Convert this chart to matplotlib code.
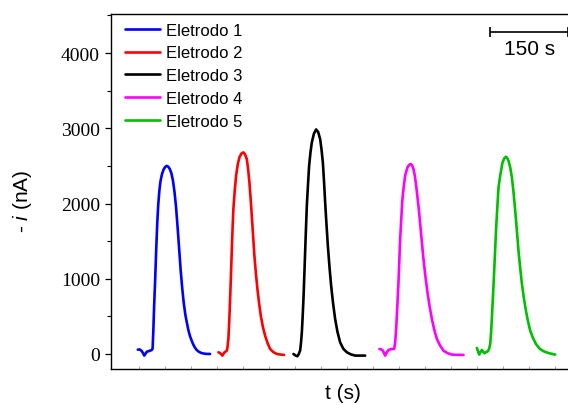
import matplotlib
matplotlib.use("Agg")
import matplotlib.pyplot as plt
from matplotlib.ticker import MultipleLocator

# time (s) and -i (nA), one pair of lists per electrode
t1 = [47.5, 51, 55, 58, 60, 62, 65, 68, 71, 74, 76, 77.5, 79, 81, 83, 85, 87, 89,
      91, 94, 97, 100, 103, 106, 109, 112, 115, 118, 121, 124, 127, 130, 133,
      136, 139, 142, 145, 148, 152, 156, 160, 165, 170, 176, 182, 186.5]
i1 = [57, 60, 40, 5, -22, 0, 31, 35, 44, 50, 70, 330, 650, 1000, 1400, 1750,
      2000, 2170, 2290, 2390, 2450, 2485, 2500, 2490, 2460, 2405, 2310, 2160,
      1960, 1690, 1400, 1110, 870, 670, 520, 410, 310, 235, 160, 100, 58, 28,
      12, 3, 0, 0]

t2 = [202.5, 206, 210.2, 214, 218.7, 220, 221.7, 223.3, 225, 226.7, 228.3,
      229.8, 231.3, 233.9, 236.5, 239.7, 242.9, 246.8, 250.6, 253.9, 257.1,
      259.6, 262.1, 264.4, 266.7, 269.2, 271.7, 274.6, 277.5, 280.8, 284, 288,
      292.3, 297, 301.9, 308, 314.8, 322, 328.8]
i2 = [22, 10, -22, 20, 44, 90, 200, 430, 730, 1060, 1395, 1680, 1927, 2170,
      2370, 2520, 2614, 2665, 2680, 2650, 2590, 2460, 2282, 2070, 1838, 1570,
      1306, 1070, 864, 670, 509, 360, 243, 145, 66, 25, 0, -8, -13]

t3 = [346.7, 350.5, 354.4, 357, 359.6, 361.3, 362.9, 364.5, 366, 367.6, 369.2,
      370.8, 372.5, 374.7, 376.9, 379.5, 382.1, 386.2, 390.4, 394.3, 398.1,
      400.7, 403.3, 405.5, 407.7, 410.3, 412.9, 416, 419.2, 423, 426.9, 431.5,
      436.5, 442.5, 449.4, 457, 465.4, 475, 484.6]
i3 = [0, -20, -31, 0, 44, 150, 288, 500, 730, 1030, 1351, 1660, 1971, 2250,
      2503, 2680, 2813, 2930, 2985, 2950, 2857, 2720, 2547, 2300, 2016, 1720,
      1440, 1160, 908, 670, 465, 290, 155, 70, 22, -5, -22, -22, -22]

t4 = [512.1, 515.4, 518.7, 521, 523.1, 526.2, 529.4, 535.9, 540.4, 542.3,
      544.2, 546.5, 548.7, 550.3, 551.9, 554.1, 556.3, 558.9, 561.5, 566,
      569.2, 572.5, 575, 577.5, 580.1, 582.7, 585.8, 589, 592.8, 596.7, 600.5,
      604.4, 608.6, 612.9, 617.7, 622.5, 628.8, 635.2, 643, 651.3, 662, 673.7]
i4 = [66, 60, 44, 10, -22, 20, 53, 66, 66, 150, 332, 640, 953, 1240, 1528,
      1800, 2060, 2230, 2370, 2481, 2515, 2525, 2505, 2459, 2370, 2237, 2050,
      1838, 1550, 1262, 1030, 820, 630, 465, 315, 199, 110, 44, 10, -9, -12,
      -13]

t5 = [699.4, 701.6, 703.8, 706.4, 709, 711.5, 714, 717.3, 720.6, 723, 725,
      726.7, 728.3, 730.5, 732.7, 734.6, 736.5, 738.8, 741, 744.2, 748.7, 752,
      755.2, 757.7, 760.2, 763.5, 766.7, 770, 773.1, 776.3, 779.4, 782.7, 786,
      789.8, 793.7, 797.8, 801.9, 807.4, 812.9, 820, 827.5, 838, 850]
i5 = [80, 35, -9, 25, 53, 30, 9, 25, 36, 70, 133, 280, 488, 790, 1107, 1400,
      1683, 1960, 2215, 2370, 2547, 2600, 2622, 2605, 2569, 2480, 2348, 2140,
      1904, 1640, 1373, 1140, 930, 740, 575, 430, 310, 210, 133, 70, 36, 10, -9]

labels = ["Eletrodo 1", "Eletrodo 2", "Eletrodo 3", "Eletrodo 4", "Eletrodo 5"]
colors = ["#0000ff", "#ff0000", "#000000", "#ff00ff", "#00c000"]

sans = "Liberation Sans"
serif = "Liberation Serif"
plt.rcParams["mathtext.fontset"] = "custom"
plt.rcParams["mathtext.it"] = "Liberation Sans:italic"
plt.rcParams["mathtext.rm"] = "Liberation Sans"

fig = plt.figure(figsize=(5.68, 4.06), dpi=100)
ax = fig.add_axes([0.1954, 0.0887, 0.8169, 0.8744])

for t, i, lab, c in zip([t1, t2, t3, t4, t5], [i1, i2, i3, i4, i5], labels, colors):
    ax.plot(t, i, color=c, lw=1.9, label=lab,
            solid_capstyle="round", solid_joinstyle="round")

ax.set_xlim(-4, 888)
ax.set_ylim(-200, 4520)

ax.spines["right"].set_visible(False)
for s in ("left", "bottom", "top"):
    ax.spines[s].set_linewidth(1.0)

ax.yaxis.set_major_locator(MultipleLocator(1000))
ax.yaxis.set_minor_locator(MultipleLocator(500))
ax.tick_params(axis="y", which="major", direction="out", length=4.5, width=0.9,
               pad=3.5, labelsize=14)
ax.tick_params(axis="y", which="minor", direction="out", length=2.8, width=0.8)
for lbl in ax.get_yticklabels():
    lbl.set_fontfamily(serif)

ax.set_xticks(range(50, 851, 50))
ax.tick_params(axis="x", which="major", direction="in", length=2.2, width=0.5,
               color="#777777", labelbottom=False)

ax.set_xlabel("t (s)", fontfamily=sans, fontsize=15, labelpad=10)
fig.text(22 / 568, 1 - 201 / 406, r"- $\mathit{i}$ (nA)", rotation=90,
         ha="center", va="center", fontfamily=sans, fontsize=15)

ax.legend(loc="upper left", bbox_to_anchor=(0.030, 0.976), frameon=False,
          prop={"family": sans, "size": 12}, handlelength=2.1,
          handletextpad=0.35, labelspacing=0.47, borderaxespad=0, borderpad=0)

# 150 s scale bar
ax.errorbar([800], [4280], xerr=[[75], [75]], fmt="none", ecolor="black",
            elinewidth=1.2, capsize=3.5, capthick=1.2)
ax.text(800, 4060, "150 s", ha="center", va="center", fontfamily=sans, fontsize=15)

fig.savefig("out.png", dpi=100)
